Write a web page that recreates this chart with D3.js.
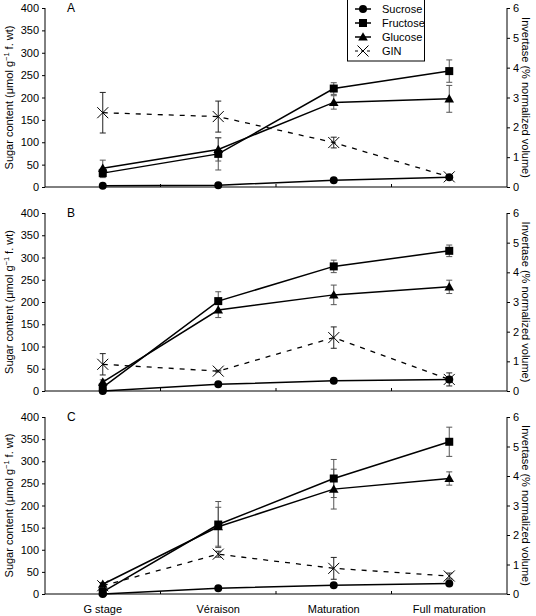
<!DOCTYPE html>
<html><head><meta charset="utf-8">
<script src="https://cdn.jsdelivr.net/npm/d3@7"></script>
<style>body{margin:0;background:#fff}svg{display:block;font-family:"Liberation Sans",Arial,sans-serif}</style>
</head><body><svg id="c" width="536" height="616"></svg>
<script>
const stages = ["G stage", "Véraison", "Maturation", "Full maturation"];
const panels = ["A", "B", "C"];
const seriesNames = ["Sucrose", "Fructose", "Glucose", "GIN"];
const leftTicks = [0, 50, 100, 150, 200, 250, 300, 350, 400];
const rightTicks = [0, 1, 2, 3, 4, 5, 6];

// Panel A
const sucroseA = [3, 4, 15, 22];        const sucroseAErr = [1, 1, 2, 3];
const fructoseA = [31, 74, 220, 259];   const fructoseAErr = [10, 36, 13, 25];
const glucoseA = [42, 84, 189, 197];    const glucoseAErr = [18, 26, 15, 30];
const ginA = [2.49, 2.36, 1.49, 0.34];  const ginAErr = [0.68, 0.52, 0.18, 0.03];
// Panel B
const sucroseB = [0, 15, 23, 26];       const sucroseBErr = [1, 2, 2, 3];
const fructoseB = [8, 202, 280, 315];   const fructoseBErr = [5, 21, 14, 13];
const glucoseB = [20, 182, 216, 234];   const glucoseBErr = [5, 17, 22, 15];
const ginB = [0.9, 0.67, 1.8, 0.39];    const ginBErr = [0.36, 0.03, 0.36, 0.22];
// Panel C
const sucroseC = [0, 13, 20, 24];       const sucroseCErr = [1, 2, 2, 3];
const fructoseC = [5, 157, 261, 344];   const fructoseCErr = [4, 52, 43, 33];
const glucoseC = [22, 152, 237, 261];   const glucoseCErr = [4, 44, 45, 15];
const ginC = [0.28, 1.35, 0.87, 0.61];  const ginCErr = [0.08, 0.1, 0.37, 0.1];

const data = [
  {label: "A", s: [sucroseA, fructoseA, glucoseA, ginA], e: [sucroseAErr, fructoseAErr, glucoseAErr, ginAErr]},
  {label: "B", s: [sucroseB, fructoseB, glucoseB, ginB], e: [sucroseBErr, fructoseBErr, glucoseBErr, ginBErr]},
  {label: "C", s: [sucroseC, fructoseC, glucoseC, ginC], e: [sucroseCErr, fructoseCErr, glucoseCErr, ginCErr]}
];

const svg = d3.select("#c");
const xL = 45, xR = 507;
const x = d3.scaleBand().domain(stages).range([xL, xR]);
const panelY = [{top: 8, bot: 187}, {top: 213, bot: 391}, {top: 417, bot: 594}];

function marker(g, type, cx, cy) {
  if (type === 0) g.append("circle").attr("cx", cx).attr("cy", cy).attr("r", 4).attr("fill", "#000");
  else if (type === 1) g.append("rect").attr("x", cx - 4).attr("y", cy - 4).attr("width", 8).attr("height", 8).attr("fill", "#000");
  else if (type === 2) g.append("path").attr("d", d3.symbol(d3.symbolTriangle, 40)()).attr("transform", `translate(${cx},${cy + 0.8})`).attr("fill", "#000");
  else {
    const r = 5.5;
    g.append("path").attr("d", `M${cx - r},${cy - r}L${cx + r},${cy + r}M${cx - r},${cy + r}L${cx + r},${cy - r}`).attr("stroke", "#000").attr("stroke-width", 1);
  }
}

data.forEach((p, pi) => {
  const {top, bot} = panelY[pi];
  const y = d3.scaleLinear().domain([0, 400]).range([bot, top]);
  const y2 = d3.scaleLinear().domain([0, 6]).range([bot, top]);
  const g = svg.append("g");

  // left axis
  const la = g.append("g").attr("transform", `translate(${xL},0)`)
    .call(d3.axisLeft(y).tickValues(leftTicks).tickSize(3).tickPadding(3));
  la.select(".domain").attr("d", `M0,${top}V${bot}`).attr("stroke", "#000");
  la.selectAll("text").attr("font-size", 11).attr("font-family", "Liberation Sans, Arial, sans-serif").attr("fill", "#000");
  // right axis
  const ra = g.append("g").attr("transform", `translate(${xR},0)`)
    .call(d3.axisRight(y2).tickValues(rightTicks).tickFormat(d3.format("d")).tickSize(3).tickPadding(3));
  ra.select(".domain").attr("d", `M0,${top}V${bot}`).attr("stroke", "#000");
  ra.selectAll("text").attr("font-size", 11).attr("font-family", "Liberation Sans, Arial, sans-serif").attr("fill", "#000");
  // x axis
  g.append("line").attr("x1", xL).attr("x2", xR).attr("y1", bot).attr("y2", bot).attr("stroke", "#000");
  stages.slice(1).forEach(s => {
    g.append("line").attr("x1", x(s)).attr("x2", x(s)).attr("y1", bot).attr("y2", bot - 3).attr("stroke", "#000");
  });
  if (pi === 2) {
    stages.forEach(s => g.append("text").attr("x", x(s) + x.bandwidth() / 2).attr("y", 613)
      .attr("text-anchor", "middle").attr("font-size", 11).text(s));
  }
  // panel label
  g.append("text").attr("x", 67).attr("y", top + 4).attr("font-size", 12).text(p.label);

  // axis titles
  const lt = g.append("text").attr("transform", `translate(13,${(top + bot) / 2}) rotate(-90)`)
    .attr("text-anchor", "middle").attr("font-size", 11);
  lt.append("tspan").text("Sugar content (μmol g");
  lt.append("tspan").attr("baseline-shift", "super").attr("font-size", 7.5).text("−1");
  lt.append("tspan").text(" f. wt)");
  g.append("text").attr("transform", `translate(522,${(top + bot) / 2}) rotate(90)`)
    .attr("text-anchor", "middle").attr("font-size", 11).text("Invertase (% normalized volume)");

  // error bars
  p.s.forEach((vals, si) => {
    const sc = si === 3 ? y2 : y;
    vals.forEach((v, i) => {
      const cx = x(stages[i]) + x.bandwidth() / 2;
      const e = p.e[si][i];
      const y1 = sc(v + e), yb = sc(Math.max(0, v - e));
      const col = si === 3 ? "#222" : "#555";
      g.append("line").attr("x1", cx).attr("x2", cx).attr("y1", y1).attr("y2", yb).attr("stroke", col).attr("stroke-width", 1);
      [y1, yb].forEach(yy => g.append("line").attr("x1", cx - 3).attr("x2", cx + 3).attr("y1", yy).attr("y2", yy).attr("stroke", col).attr("stroke-width", 1));
    });
  });
  // lines
  p.s.forEach((vals, si) => {
    const sc = si === 3 ? y2 : y;
    const line = d3.line().x((d, i) => x(stages[i]) + x.bandwidth() / 2).y(d => sc(d));
    g.append("path").attr("d", line(vals)).attr("fill", "none").attr("stroke", "#000")
      .attr("stroke-width", si === 3 ? 1.3 : 1.5).attr("stroke-dasharray", si === 3 ? "5,6" : null);
  });
  // markers
  p.s.forEach((vals, si) => {
    const sc = si === 3 ? y2 : y;
    vals.forEach((v, i) => marker(g, si, x(stages[i]) + x.bandwidth() / 2, sc(v)));
  });
});

// legend
const lg = svg.append("g");
lg.append("rect").attr("x", 347.5).attr("y", -1).attr("width", 77).attr("height", 62).attr("fill", "#fff").attr("stroke", "#000");
seriesNames.forEach((n, i) => {
  const yy = 9 + i * 14;
  lg.append("line").attr("x1", 355).attr("x2", 371).attr("y1", yy).attr("y2", yy).attr("stroke", "#000")
    .attr("stroke-width", i === 3 ? 1 : 1.5).attr("stroke-dasharray", i === 3 ? "3,3" : null);
  marker(lg, i, 363, yy);
  lg.append("text").attr("x", 382).attr("y", yy + 4).attr("font-size", 11).text(n);
});
</script></body></html>
